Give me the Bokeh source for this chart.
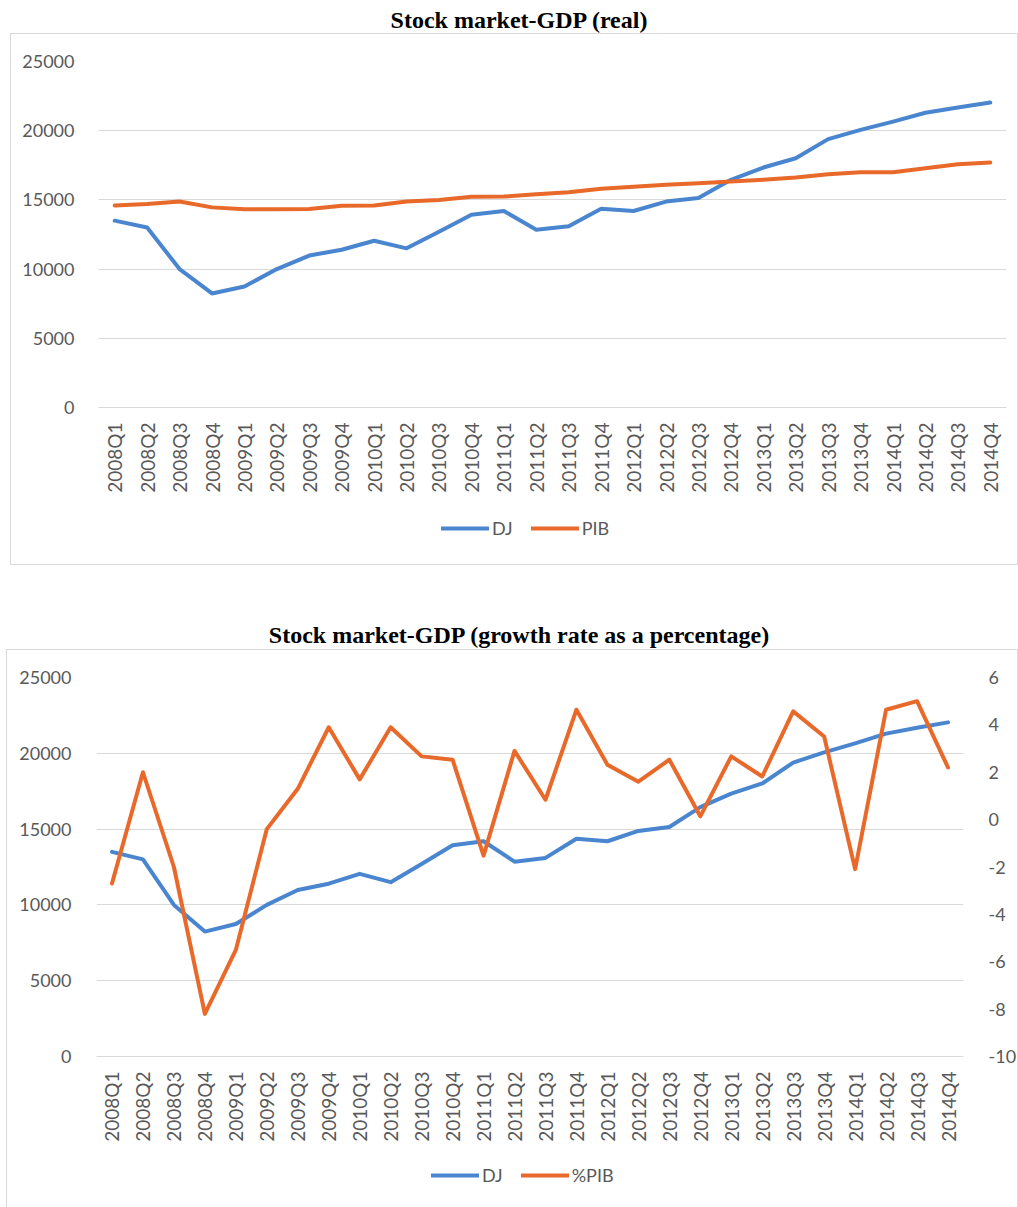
from bokeh.plotting import figure
from bokeh.models import (FactorRange, Range1d, LinearAxis, Legend, LegendItem,
                          Div, FixedTicker, ColumnDataSource)
from bokeh.embed import file_html
from bokeh.resources import INLINE

quarters = [f"{y}Q{q}" for y in range(2008, 2015) for q in range(1, 5)]

dj = [13500, 13000, 10000, 8240, 8740, 10000, 10980, 11400, 12050, 11500,
      12700, 13930, 14200, 12850, 13100, 14360, 14200, 14880, 15140, 16450,
      17340, 18010, 19390, 20060, 20660, 21300, 21680, 22040]

pib = [14600, 14700, 14880, 14460, 14330, 14330, 14350, 14570, 14590, 14880,
       15000, 15230, 15240, 15400, 15550, 15800, 15950, 16100, 16200, 16330,
       16450, 16620, 16860, 17000, 17000, 17290, 17580, 17700]

pct_pib = [-2.7, 2.0, -2.0, -8.2, -5.5, -0.4, 1.3, 3.9, 1.7, 3.9,
           2.67, 2.53, -1.52, 2.9, 0.84, 4.64, 2.32, 1.6, 2.53, 0.14,
           2.67, 1.82, 4.57, 3.51, -2.09, 4.64, 5.0, 2.2]

left_ticks = [0, 5000, 10000, 15000, 20000, 25000]
right_ticks = [-10, -8, -6, -4, -2, 0, 2, 4, 6]

BLUE = "#4A86CF"
ORANGE = "#E8692A"
GRID = "#d9d9d9"
LABEL = "#595959"
FONT = "Lato"
FS = "18px"
BORDER = "1px solid #d9d9d9"

src = ColumnDataSource(dict(q=quarters, dj=dj, pib=pib, pct=pct_pib))


def style(p):
    p.xgrid.grid_line_color = None
    p.ygrid.grid_line_color = GRID
    p.ygrid.grid_line_width = 1
    p.outline_line_color = None
    p.yaxis[0].ticker = FixedTicker(ticks=left_ticks)
    for ax in p.yaxis:
        ax.axis_line_color = None
        ax.major_tick_line_color = None
        ax.minor_tick_line_color = None
        ax.major_label_text_font = FONT
        ax.major_label_text_font_size = FS
        ax.major_label_text_color = LABEL
        ax.major_label_standoff = 19
    xa = p.xaxis[0]
    xa.axis_line_color = GRID
    xa.major_tick_line_color = None
    xa.minor_tick_line_color = None
    xa.major_label_orientation = 1.5707963
    xa.major_label_text_font = FONT
    xa.major_label_text_font_size = "19px"
    xa.major_label_text_color = LABEL
    xa.major_label_standoff = 9


def legend_fig(width, height, series, labels, x, y, styles, margin):
    # legend strip: same series drawn far outside its view, only the legend shows
    f = figure(width=width, height=height, x_range=FactorRange(*quarters, range_padding=0),
               y_range=Range1d(-200000, -100000),
               toolbar_location=None, output_backend="svg", x_axis_location=None,
               y_axis_location=None, min_border=0, min_border_left=0, min_border_right=0,
               min_border_top=0, min_border_bottom=0, margin=margin, styles=styles)
    f.grid.visible = False
    f.outline_line_color = None
    items = []
    for col_name, lab, col in zip(series, labels, [BLUE, ORANGE]):
        r = f.line("q", col_name, source=src, line_color=col, line_width=4, line_cap="round")
        items.append(LegendItem(label=lab, renderers=[r]))
    lg = Legend(items=items, orientation="horizontal", location=(x, y),
                border_line_color=None, background_fill_alpha=0,
                glyph_width=48, glyph_height=20, label_standoff=3,
                spacing=18, padding=0, margin=0,
                label_text_font=FONT, label_text_font_size=FS,
                label_text_color=LABEL)
    f.add_layout(lg, "center")
    return f


title_css = ("font-family:'Liberation Serif';font-weight:bold;font-size:24px;"
             "color:#000;text-align:center;line-height:25px;white-space:nowrap;")

t1 = Div(text=f"<div style=\"{title_css}width:1000px;padding-left:38px;padding-top:8px;\">Stock market-GDP (real)</div>",
         width=1018, height=33, margin=(0, 0, 0, 0))

p1 = figure(width=1008, height=477, x_range=FactorRange(*quarters, range_padding=0),
            y_range=Range1d(0, 25000), toolbar_location=None, output_backend="svg",
            min_border_left=87, min_border_right=13, min_border_top=27, min_border_bottom=104,
            margin=(0, 0, 0, 10),
            styles={"border-top": BORDER, "border-left": BORDER, "border-right": BORDER})
r1 = p1.line("q", "dj", source=src, line_color=BLUE, line_width=4, line_join="round", line_cap="round")
r2 = p1.line("q", "pib", source=src, line_color=ORANGE, line_width=4, line_join="round", line_cap="round")
style(p1)
p1.yaxis[0].major_label_standoff = 18
l1 = legend_fig(1008, 55, ["dj", "pib"], ["DJ", "PIB"], 430, 26,
                {"border-bottom": BORDER, "border-left": BORDER, "border-right": BORDER},
                (0, 0, 0, 10))

t2 = Div(text=f"<div style=\"{title_css}width:1000px;padding-left:38px;padding-top:58px;\">Stock market-GDP (growth rate as a percentage)</div>",
         width=1018, height=84, margin=(0, 0, 0, 0))

p2 = figure(width=1012, height=501, x_range=FactorRange(*quarters, range_padding=0),
            y_range=Range1d(0, 25000), toolbar_location=None, output_backend="svg",
            min_border_left=89, min_border_right=46, min_border_top=27, min_border_bottom=95,
            margin=(0, 0, 0, 6),
            styles={"border-top": BORDER, "border-left": BORDER, "border-right": BORDER})
p2.extra_y_ranges = {"pct": Range1d(-10, 6)}
q1 = p2.line("q", "dj", source=src, line_color=BLUE, line_width=4, line_join="round", line_cap="round")
q2 = p2.line("q", "pct", source=src, y_range_name="pct", line_color=ORANGE, line_width=4,
             line_join="round", line_cap="round")
rax = LinearAxis(y_range_name="pct", ticker=FixedTicker(ticks=right_ticks),
                 major_label_overrides={t: str(t) for t in right_ticks})
p2.add_layout(rax, "right")
style(p2)
l2 = legend_fig(1012, 57, ["dj", "pct"], ["DJ", "%PIB"], 424, 21,
                {"border-left": BORDER, "border-right": BORDER}, (0, 0, 0, 6))

open("out.html", "w").write(file_html([t1, p1, l1, t2, p2, l2], INLINE))
